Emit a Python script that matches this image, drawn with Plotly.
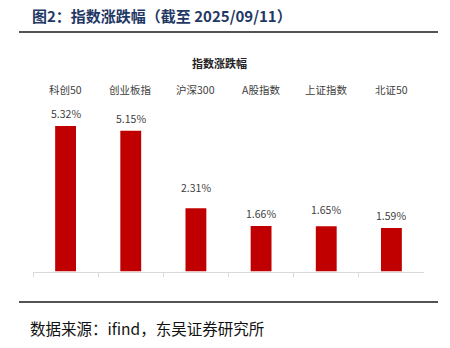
import plotly.graph_objects as go

categories = ["科创50", "创业板指", "沪深300", "A股指数", "上证指数", "北证50"]
values = [5.32, 5.15, 2.31, 1.66, 1.65, 1.59]
value_labels = ["5.32%", "5.15%", "2.31%", "1.66%", "1.65%", "1.59%"]
label_shift = [13, 12, 21, 13, 17, 13]

W, H = 450, 348
base_px = 271.5
px_per = 27.35
top_px = 100
ymax = (base_px - top_px) / px_per

def py(p):
    return 1 - p / H

fig = go.Figure()
fig.add_trace(go.Bar(
    x=categories, y=values, marker=dict(color="#C00000", line=dict(width=0)),
    width=0.32, hoverinfo="skip",
))

cjk = "Noto Sans CJK SC"
ann = []
for c, v, t, s in zip(categories, values, value_labels, label_shift):
    ann.append(dict(x=c, y=v, xref="x", yref="y", text=t, showarrow=False,
                    yanchor="middle", yshift=s, font=dict(family=cjk, size=10.5, color="#404040")))
    ann.append(dict(x=c, y=py(89), xref="x", yref="paper", text=c, showarrow=False,
                    yanchor="middle", font=dict(family=cjk, size=10.5, color="#404040")))

ann.append(dict(x=30 / W, y=py(16), xref="paper", yref="paper", xanchor="left", yanchor="middle",
                text="<b>图2：指数涨跌幅（截至 2025/09/11）</b>", showarrow=False,
                font=dict(family=cjk, size=15, color="#1F3864")))
ann.append(dict(x=219.5 / W, y=py(63), xref="paper", yref="paper", xanchor="center", yanchor="middle",
                text="<b>指数涨跌幅</b>", showarrow=False,
                font=dict(family=cjk, size=11, color="#222222")))
ann.append(dict(x=28 / W, y=py(328), xref="paper", yref="paper", xanchor="left", yanchor="middle",
                text="数据来源：ifind，东吴证券研究所", showarrow=False,
                font=dict(family=cjk, size=15.5, color="#111111")))

shapes = [
    dict(type="line", xref="paper", yref="paper", x0=19 / W, x1=438 / W, y0=py(32), y1=py(32),
         line=dict(color="#1a1a1a", width=1.5)),
    dict(type="line", xref="paper", yref="paper", x0=19 / W, x1=438 / W, y0=py(302), y1=py(302),
         line=dict(color="#1a1a1a", width=1.5)),
]

fig.update_layout(
    width=W, height=H, margin=dict(l=0, r=0, t=0, b=0),
    paper_bgcolor="white", plot_bgcolor="white", showlegend=False,
    annotations=ann, shapes=shapes,
    xaxis=dict(domain=[33 / W, 424 / W], showticklabels=False, showline=True,
               linecolor="#d9d9d9", linewidth=1, ticks="outside", tickson="boundaries",
               ticklen=4, tickcolor="#d9d9d9", showgrid=False, fixedrange=True),
    yaxis=dict(domain=[py(base_px), py(top_px)], range=[0, ymax], visible=False,
               showgrid=False, zeroline=False, fixedrange=True),
)

fig.write_html("out.html")
